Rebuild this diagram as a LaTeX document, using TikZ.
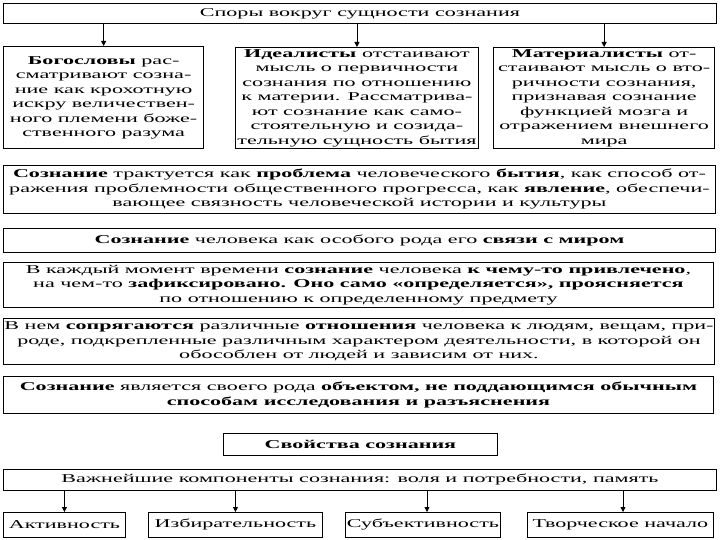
\documentclass[tikz,border=0pt]{standalone}
\usepackage{fontspec}
\setmainfont{Liberation Serif}[FakeStretch=1.84]
\usetikzlibrary{arrows.meta}
\tikzset{every node/.style={font=\fontsize{12}{14.5}\selectfont},line cap=round,line join=round}
\tikzset{box/.style={draw,line width=0.9pt,align=center,inner sep=1pt,anchor=north west},
  arr/.style={line width=0.8pt,-{Triangle[length=5pt,width=5pt]}}}

\begin{document}
\begin{tikzpicture}[x=1pt,y=-1pt]
  \path[use as bounding box] (0,0) rectangle (720,540);
  % top row
  \node[box,minimum width=713pt,minimum height=20pt] (spory) at (3,3) {Споры вокруг сущности сознания};
  \node[box,line width=1.3pt,minimum width=200pt,minimum height=102pt] (bogo) at (3,46)
    {\textbf{Богословы} рас-\\сматривают созна-\\ние как крохотную\\искру величествен-\\ного племени боже-\\ственного разума};
  \node[box,minimum width=243pt,minimum height=101pt] (ideal) at (235,47)
    {\textbf{Идеалисты} отстаивают\\мысль о первичности\\сознания по отношению\\к материи. Рассматрива-\\ют сознание как само-\\стоятельную и созида-\\тельную сущность бытия};
  \node[box,line width=1.3pt,minimum width=221pt,minimum height=101pt] (mater) at (493,47)
    {\textbf{Материалисты} от-\\стаивают мысль о вто-\\ричности сознания,\\признавая сознание\\функцией мозга и\\отражением внешнего\\мира};
  \draw[arr] (spory.south -| bogo.north) -- (bogo.north);
  \draw[arr] (spory.south -| ideal.north) -- (ideal.north);
  \draw[arr] (spory.south -| mater.north) -- (mater.north);
  % middle rows
  \node[box,minimum width=712pt,minimum height=48pt] (trakt) at (3,165)
    {\textbf{Сознание} трактуется как \textbf{проблема} человеческого \textbf{бытия}, как способ от-\\ражения проблемности общественного прогресса, как \textbf{явление}, обеспечи-\\вающее связность человеческой истории и культуры};
  \node[box,minimum width=712pt,minimum height=24pt] (svyaz) at (3,228)
    {\textbf{Сознание} человека как особого рода его \textbf{связи с миром}};
  \node[box,minimum width=710pt,minimum height=45pt] (moment) at (3,262)
    {В каждый момент времени \textbf{сознание} человека \textbf{к чему-то привлечено},\\на чем-то \textbf{зафиксировано. Оно само «определяется», проясняется}\\по отношению к определенному предмету};
  \node[box,minimum width=710pt,minimum height=46pt] (nem) at (3,318)
    {В нем \textbf{сопрягаются} различные \textbf{отношения} человека к людям, вещам, при-\\роде, подкрепленные различным характером деятельности, в которой он\\обособлен от людей и зависим от них.};
  \node[box,minimum width=710pt,minimum height=37pt] (obekt) at (3,376)
    {\textbf{Сознание} является своего рода \textbf{объектом, не поддающимся обычным}\\\textbf{способам исследования и разъяснения}};
  % bottom rows
  \node[box,minimum width=274pt,minimum height=22pt] (svoj) at (223,433) {\textbf{Свойства сознания}};
  \node[box,minimum width=713pt,minimum height=21pt] (komp) at (3,469)
    {Важнейшие компоненты сознания: воля и потребности, память};
  \node[box,minimum width=122pt,minimum height=25pt] (akt) at (3,512) {Активность};
  \node[box,minimum width=174pt,minimum height=25pt] (izb) at (148,512) {Избирательность};
  \node[box,minimum width=155pt,minimum height=25pt] (subj) at (345,512) {Субъективность};
  \node[box,minimum width=186pt,minimum height=25pt] (tvor) at (527,512) {Творческое начало};
  \coordinate (subjin) at (427,512);
  \coordinate (tvorin) at (623,512);
  \draw[arr] (komp.south -| akt.north) -- (akt.north);
  \draw[arr] (komp.south -| izb.north) -- (izb.north);
  \draw[arr] (komp.south -| subjin) -- (subjin);
  \draw[arr] (komp.south -| tvorin) -- (tvorin);
\end{tikzpicture}
\end{document}
